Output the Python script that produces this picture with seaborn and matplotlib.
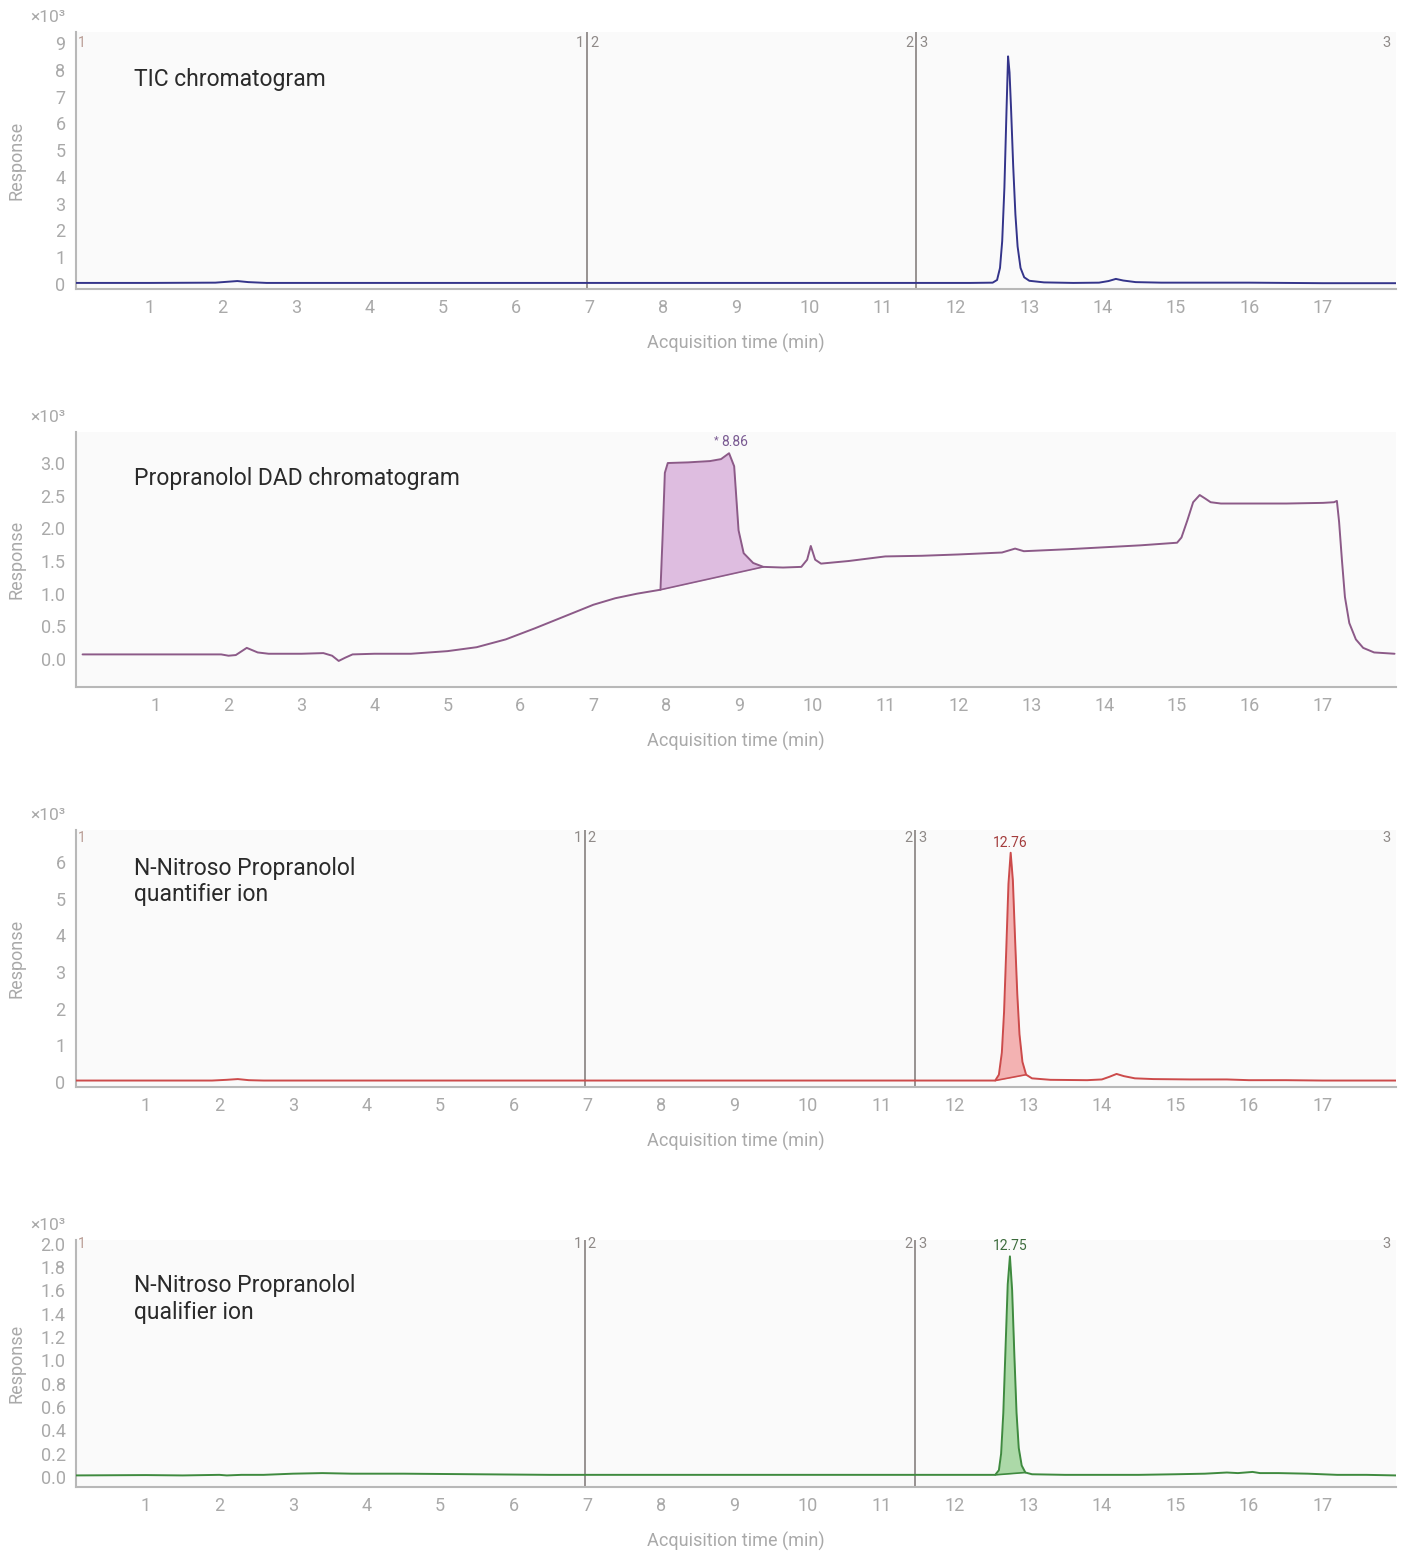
import numpy as np
import pandas as pd
import matplotlib
matplotlib.use("Agg")
import matplotlib.pyplot as plt
import seaborn as sns

# ---------------------------------------------------------------------------
# Chromatogram traces (time in min, response in units of 10^3 counts)
# ---------------------------------------------------------------------------
tic_time = [0.0, 1.0, 1.9, 2.1, 2.2, 2.35, 2.6, 3.5, 4.5, 5.5, 6.5, 7.5, 8.5,
            9.5, 10.5, 11.5, 12.2, 12.5, 12.56, 12.60, 12.63, 12.66, 12.69,
            12.71, 12.73, 12.75, 12.78, 12.81, 12.84, 12.88, 12.93, 13.0, 13.2,
            13.6, 13.95, 14.08, 14.18, 14.28, 14.45, 14.8, 15.5, 16.0, 16.5,
            17.0, 17.5, 18.0]
tic_resp = [0.04, 0.04, 0.05, 0.09, 0.11, 0.07, 0.04, 0.04, 0.04, 0.04, 0.04,
            0.04, 0.04, 0.04, 0.04, 0.04, 0.04, 0.05, 0.15, 0.6, 1.6, 3.6, 6.6,
            8.5, 7.9, 6.6, 4.4, 2.6, 1.4, 0.6, 0.25, 0.12, 0.06,
            0.04, 0.05, 0.11, 0.19, 0.13, 0.07, 0.05, 0.05, 0.05, 0.04,
            0.03, 0.03, 0.03]

dad_time = [0.0, 1.0, 1.9, 2.0, 2.1, 2.25, 2.4, 2.55, 3.0, 3.3, 3.42, 3.51,
            3.6, 3.7, 4.0, 4.5, 5.0, 5.4, 5.8, 6.2, 6.6, 7.0, 7.3, 7.6, 7.92,
            7.95, 7.98, 8.02, 8.3, 8.6, 8.75, 8.86, 8.93, 8.99, 9.06, 9.19,
            9.33, 9.6, 9.85, 9.93, 9.98, 10.04, 10.12, 10.5, 11.0, 11.5, 12.0,
            12.6, 12.78, 12.9, 13.5, 14.0, 14.5, 15.0, 15.06, 15.14, 15.22,
            15.31, 15.38, 15.46, 15.6, 16.0, 16.5, 17.0, 17.15, 17.19, 17.22,
            17.26, 17.3, 17.36, 17.45, 17.55, 17.7, 17.98]
dad_resp = [0.07, 0.07, 0.07, 0.05, 0.06, 0.17, 0.10, 0.08, 0.08, 0.09, 0.05,
            -0.03, 0.02, 0.07, 0.08, 0.08, 0.12, 0.18, 0.30, 0.47, 0.65, 0.83,
            0.93, 1.00, 1.06, 1.9, 2.85, 3.0, 3.01, 3.03, 3.06, 3.15, 2.95,
            1.97, 1.62, 1.47, 1.41, 1.40, 1.41, 1.52, 1.73, 1.52, 1.46, 1.50,
            1.57, 1.58, 1.60, 1.63, 1.69, 1.65, 1.68, 1.71, 1.74, 1.78, 1.86,
            2.12, 2.40, 2.51, 2.46, 2.40, 2.38, 2.38, 2.38, 2.39, 2.40, 2.42,
            2.10, 1.50, 0.95, 0.55, 0.30, 0.17, 0.10, 0.08]

quant_time = [0.0, 1.0, 1.9, 2.1, 2.25, 2.4, 2.6, 4.0, 6.0, 8.0, 10.0, 11.5,
              12.3, 12.55, 12.6, 12.64, 12.67, 12.70, 12.73, 12.76, 12.79,
              12.82, 12.85, 12.88, 12.92, 12.97, 13.05, 13.3, 13.8, 14.0, 14.1,
              14.2, 14.3, 14.45, 14.7, 15.2, 15.7, 16.0, 16.5, 17.0, 18.0]
quant_resp = [0.04, 0.04, 0.04, 0.06, 0.08, 0.05, 0.04, 0.04, 0.04, 0.04, 0.04,
              0.04, 0.04, 0.04, 0.2, 0.8, 1.9, 3.6, 5.4, 6.25, 5.5,
              3.9, 2.4, 1.3, 0.55, 0.2, 0.1, 0.06, 0.05, 0.07, 0.14,
              0.22, 0.16, 0.10, 0.08, 0.07, 0.07, 0.05, 0.05, 0.04, 0.04]

qual_time = [0.0, 1.0, 1.5, 2.0, 2.1, 2.3, 2.6, 3.0, 3.4, 3.8, 4.5, 5.5, 6.5,
             8.0, 10.0, 11.5, 12.3, 12.55, 12.6, 12.63, 12.66, 12.69, 12.72,
             12.75, 12.78, 12.81, 12.84, 12.87, 12.91, 12.96, 13.05, 13.5, 14.0,
             14.5, 15.0, 15.4, 15.7, 15.85, 16.05, 16.15, 16.4, 16.8, 17.2,
             17.6, 18.0]
qual_resp = [0.015, 0.018, 0.015, 0.02, 0.015, 0.02, 0.02, 0.03, 0.035, 0.03,
             0.03, 0.025, 0.02, 0.02, 0.02, 0.02, 0.02, 0.02, 0.06, 0.2, 0.55,
             1.1, 1.65, 1.89, 1.6, 1.05, 0.55, 0.25, 0.1, 0.04, 0.025, 0.02,
             0.02, 0.02, 0.025, 0.03, 0.04, 0.035, 0.045, 0.035, 0.035, 0.03,
             0.02, 0.02, 0.015]

# Integrated peak windows (start, end) and apex retention-time labels
dad_window = (7.92, 9.33)
quant_window = (12.55, 12.97)
qual_window = (12.55, 12.96)
dad_rt, quant_rt, qual_rt = 8.86, 12.76, 12.75

# Time-segment boundaries
segment_bounds = [6.97, 11.46]

panel_titles = ["TIC chromatogram", "Propranolol DAD chromatogram",
                "N-Nitroso Propranolol\nquantifier ion",
                "N-Nitroso Propranolol\nqualifier ion"]
x_ticks = list(range(1, 18))
y_ticks = [list(range(0, 10)),
           [0.0, 0.5, 1.0, 1.5, 2.0, 2.5, 3.0],
           list(range(0, 7)),
           [0.0, 0.2, 0.4, 0.6, 0.8, 1.0, 1.2, 1.4, 1.6, 1.8, 2.0]]

# ---------------------------------------------------------------------------
sns.set_theme(style="white")
plt.rcParams["font.family"] = ["Roboto", "DejaVu Sans"]

W, H = 1410, 1551
fig = plt.figure(figsize=(W / 100, H / 100), dpi=100)

GRAY = "#a9a9a9"
SPINE = "#b8b8b8"
SEG = "#8f8a88"
BG = "#fafafa"


def rect(top, bottom, left=76, right=1396):
    return [left / W, 1 - bottom / H, (right - left) / W, (bottom - top) / H]


layout = [  # (top px, bottom px, xlim, ylim)
    (32, 289, (0.0, 18.0), (-0.187, 9.41)),
    (432, 687, (-0.09, 17.98), (-0.429, 3.475)),
    (830, 1087, (0.05, 18.0), (-0.136, 6.87)),
    (1240, 1487, (0.05, 18.0), (-0.084, 2.03)),
]

traces = [
    (tic_time, tic_resp, "#34348a", None, None),
    (dad_time, dad_resp, "#8c5a88", "#d9b3dc", dad_window),
    (quant_time, quant_resp, "#cc4b4b", "#f2a6a6", quant_window),
    (qual_time, qual_resp, "#3f8a3f", "#9fd49a", qual_window),
]

axes = []
for i, ((top, bot, xl, yl), (t, r, col, fcol, win)) in enumerate(zip(layout, traces)):
    ax = fig.add_axes(rect(top, bot))
    axes.append(ax)
    ax.set_facecolor(BG)
    df = pd.DataFrame({"time": t, "resp": r})
    sns.lineplot(data=df, x="time", y="resp", ax=ax, color=col, lw=1.4,
                 estimator=None, sort=False, zorder=4)

    if win is not None:
        sel = df[(df.time >= win[0]) & (df.time <= win[1])]
        t0, t1 = sel.time.iloc[0], sel.time.iloc[-1]
        b0, b1 = sel.resp.iloc[0], sel.resp.iloc[-1]
        base = b0 + (sel.time - t0) * (b1 - b0) / (t1 - t0)
        ax.fill_between(sel.time, base, sel.resp, color=fcol, alpha=0.85,
                        lw=0, zorder=3)
        ax.plot([t0, t1], [b0, b1], color=col, lw=1.2, zorder=4)

    ax.set_xlim(*xl)
    ax.set_ylim(*yl)
    ax.set_xticks(x_ticks + [18])
    ax.set_xticklabels([str(v) for v in x_ticks] + [""])
    ax.set_yticks(y_ticks[i])
    if i in (0, 2):
        ax.set_yticklabels([str(v) for v in y_ticks[i]])
    else:
        ax.set_yticklabels([f"{v:.1f}" for v in y_ticks[i]])

    for side in ("top", "right"):
        ax.spines[side].set_visible(False)
    for side in ("left", "bottom"):
        ax.spines[side].set_color(SPINE)
        ax.spines[side].set_linewidth(1.5)
    ax.tick_params(axis="both", colors=SPINE, labelcolor=GRAY, labelsize=13,
                   length=6, width=1.2, direction="out")
    ax.tick_params(axis="x", pad=1)
    ax.tick_params(axis="y", pad=1.5)

    ax.set_xlabel("Acquisition time (min)", fontsize=13, color=GRAY,
                  labelpad=12)
    ax.set_ylabel("Response", fontsize=13, color=GRAY, va="center")
    ax.yaxis.set_label_coords(-0.0447, 0.5)

    ax.text(0.0439, 0.817 if i < 2 else (0.80 if i == 2 else 0.761),
            panel_titles[i], transform=ax.transAxes, fontsize=16.5,
            color="#2a2a2a", ha="left", va="center", linespacing=1.2,
            zorder=6)

    # Time-segment markers
    if i != 1:
        trans = ax.get_xaxis_transform()
        ytxt = 1 - (11 if i == 0 else (8 if i == 2 else 4)) / (bot - top)
        for k, xb in enumerate(segment_bounds):
            ax.axvline(xb, color=SEG, lw=1.3, zorder=2)
            ax.text(xb - 0.04, ytxt, str(k + 1), transform=trans, ha="right",
                    va="center", fontsize=10.5, color=SEG)
            ax.text(xb + 0.04, ytxt, str(k + 2), transform=trans, ha="left",
                    va="center", fontsize=10.5, color=SEG)
        ax.text(xl[0] + 0.03, ytxt, "1", transform=trans, ha="left",
                va="center", fontsize=10, color="#b89c94")
        ax.text(17.93, ytxt, "3", transform=trans, ha="right",
                va="center", fontsize=10.5, color=SEG)

    # ×10³ multiplier
    fig.text(48 / W, 1 - (top - 14) / H, "×10³", ha="center", va="center",
             fontsize=12.5, color=GRAY)

# Retention-time labels at peak apexes
ax_dad, ax_q, ax_ql = axes[1], axes[2], axes[3]
dad_top = dad_resp[dad_time.index(dad_rt)]
ax_dad.annotate(f"{dad_rt:.2f}", (dad_rt, dad_top), xytext=(6, 11),
                textcoords="offset pixels", ha="center", va="center",
                fontsize=10, color="#7a5a92")
ax_dad.annotate("*", (dad_rt, dad_top), xytext=(-13, 13),
                textcoords="offset pixels", ha="center", va="center",
                fontsize=8, color="#7a5a92")
q_top = quant_resp[quant_time.index(quant_rt)]
ax_q.annotate(f"{quant_rt:.2f}", (quant_rt, q_top), xytext=(0, 10),
              textcoords="offset pixels", ha="center", va="center",
              fontsize=10, color="#a33c3c")
ql_top = qual_resp[qual_time.index(qual_rt)]
ax_ql.annotate(f"{qual_rt:.2f}", (qual_rt, ql_top), xytext=(0, 10),
               textcoords="offset pixels", ha="center", va="center",
               fontsize=10, color="#3c6b3c")

fig.savefig("out.png", dpi=100, facecolor="white")
